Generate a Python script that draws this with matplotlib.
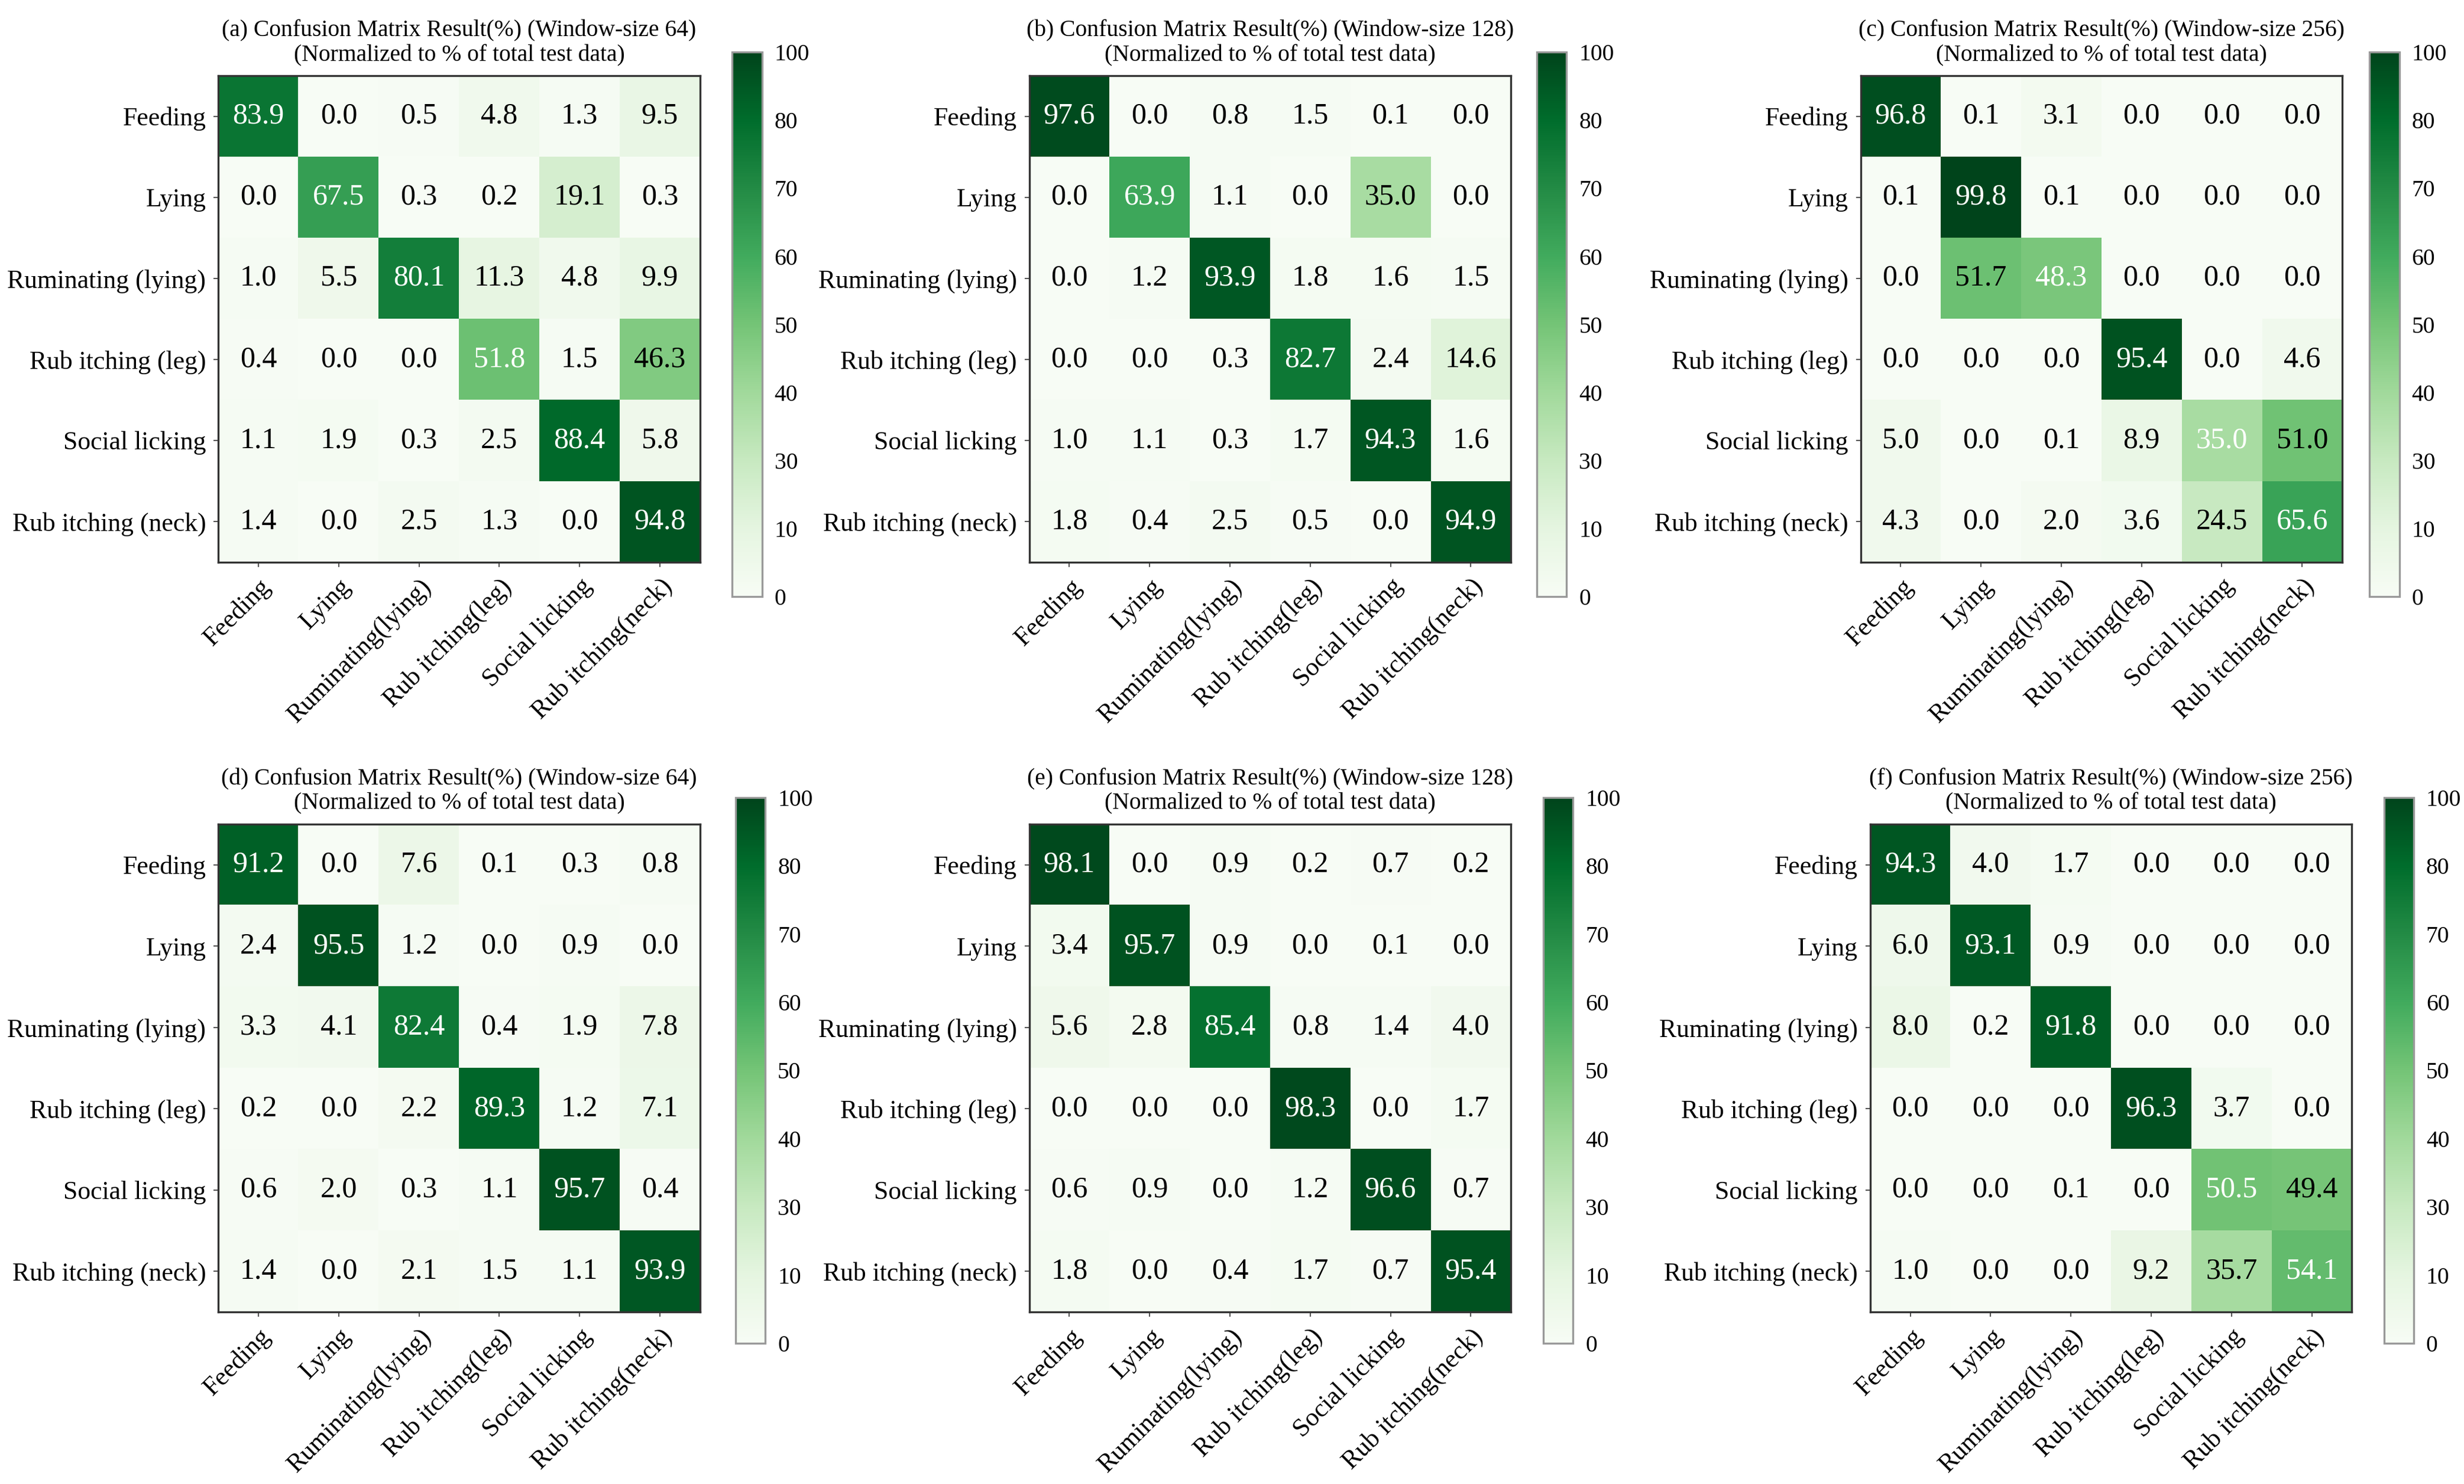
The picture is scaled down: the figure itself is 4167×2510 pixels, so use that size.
import numpy as np
import matplotlib
matplotlib.use("Agg")
import matplotlib.pyplot as plt

plt.rcParams["font.family"] = ["Liberation Serif", "DejaVu Serif"]

classes_y = ["Feeding", "Lying", "Ruminating (lying)", "Rub itching (leg)",
             "Social licking", "Rub itching (neck)"]
classes_x = ["Feeding", "Lying", "Ruminating(lying)", "Rub itching(leg)",
             "Social licking", "Rub itching(neck)"]
cbar_labels = ["0", "10", "30", "40", "50", "60", "70", "80", "100"]

titles = [
    "(a) Confusion Matrix Result(%) (Window-size 64)",
    "(b) Confusion Matrix Result(%) (Window-size 128)",
    "(c) Confusion Matrix Result(%) (Window-size 256)",
    "(d) Confusion Matrix Result(%) (Window-size 64)",
    "(e) Confusion Matrix Result(%) (Window-size 128)",
    "(f) Confusion Matrix Result(%) (Window-size 256)",
]
subtitle = "(Normalized to % of total test data)"

cm_a = [[83.9, 0.0, 0.5, 4.8, 1.3, 9.5],
        [0.0, 67.5, 0.3, 0.2, 19.1, 0.3],
        [1.0, 5.5, 80.1, 11.3, 4.8, 9.9],
        [0.4, 0.0, 0.0, 51.8, 1.5, 46.3],
        [1.1, 1.9, 0.3, 2.5, 88.4, 5.8],
        [1.4, 0.0, 2.5, 1.3, 0.0, 94.8]]
cm_b = [[97.6, 0.0, 0.8, 1.5, 0.1, 0.0],
        [0.0, 63.9, 1.1, 0.0, 35.0, 0.0],
        [0.0, 1.2, 93.9, 1.8, 1.6, 1.5],
        [0.0, 0.0, 0.3, 82.7, 2.4, 14.6],
        [1.0, 1.1, 0.3, 1.7, 94.3, 1.6],
        [1.8, 0.4, 2.5, 0.5, 0.0, 94.9]]
cm_c = [[96.8, 0.1, 3.1, 0.0, 0.0, 0.0],
        [0.1, 99.8, 0.1, 0.0, 0.0, 0.0],
        [0.0, 51.7, 48.3, 0.0, 0.0, 0.0],
        [0.0, 0.0, 0.0, 95.4, 0.0, 4.6],
        [5.0, 0.0, 0.1, 8.9, 35.0, 51.0],
        [4.3, 0.0, 2.0, 3.6, 24.5, 65.6]]
cm_d = [[91.2, 0.0, 7.6, 0.1, 0.3, 0.8],
        [2.4, 95.5, 1.2, 0.0, 0.9, 0.0],
        [3.3, 4.1, 82.4, 0.4, 1.9, 7.8],
        [0.2, 0.0, 2.2, 89.3, 1.2, 7.1],
        [0.6, 2.0, 0.3, 1.1, 95.7, 0.4],
        [1.4, 0.0, 2.1, 1.5, 1.1, 93.9]]
cm_e = [[98.1, 0.0, 0.9, 0.2, 0.7, 0.2],
        [3.4, 95.7, 0.9, 0.0, 0.1, 0.0],
        [5.6, 2.8, 85.4, 0.8, 1.4, 4.0],
        [0.0, 0.0, 0.0, 98.3, 0.0, 1.7],
        [0.6, 0.9, 0.0, 1.2, 96.6, 0.7],
        [1.8, 0.0, 0.4, 1.7, 0.7, 95.4]]
cm_f = [[94.3, 4.0, 1.7, 0.0, 0.0, 0.0],
        [6.0, 93.1, 0.9, 0.0, 0.0, 0.0],
        [8.0, 0.2, 91.8, 0.0, 0.0, 0.0],
        [0.0, 0.0, 0.0, 96.3, 3.7, 0.0],
        [0.0, 0.0, 0.1, 0.0, 50.5, 49.4],
        [1.0, 0.0, 0.0, 9.2, 35.7, 54.1]]

matrices = [cm_a, cm_b, cm_c, cm_d, cm_e, cm_f]

# panel boxes in figure fractions (matrix axes, colorbar axes)
ax_lefts = [0.0886, 0.4177, 0.7551, 0.0886, 0.4177, 0.759]
cb_lefts = [0.2972, 0.6237, 0.9617, 0.2985, 0.6263, 0.9675]

fig = plt.figure(figsize=(4167 / 300, 2510 / 300), dpi=300)

for i, cm in enumerate(matrices):
    cm = np.array(cm)
    row = i // 3
    if row == 0:
        ax_box = [ax_lefts[i], 0.6213, 0.1955, 0.3277]
        cb_box = [cb_lefts[i], 0.5979, 0.0121, 0.367]
    else:
        ax_box = [ax_lefts[i], 0.1160, 0.1955, 0.3287]
        cb_box = [cb_lefts[i], 0.0947, 0.0121, 0.368]
    ax = fig.add_axes(ax_box)
    im = ax.imshow(cm, cmap="Greens", vmin=0, vmax=100, aspect="auto")
    for r in range(cm.shape[0]):
        for c in range(cm.shape[1]):
            color = "white" if r == c else "black"
            ax.text(c, r, f"{cm[r, c]:.1f}", ha="center", va="center",
                    fontsize=12, color=color)
    ax.set_xticks(range(len(classes_x)))
    ax.set_xticklabels(classes_x, rotation=45, ha="right",
                       rotation_mode="anchor", fontsize=10.5)
    ax.set_yticks(range(len(classes_y)))
    ax.set_yticklabels(classes_y, fontsize=10.5)
    ax.tick_params(length=2, width=0.5, color="#555555", pad=3)
    for s in ax.spines.values():
        s.set_linewidth(0.8)
        s.set_color("#333333")
    ax.set_title(titles[i] + "\n" + subtitle, fontsize=9.5, pad=6,
                 linespacing=1.15)

    cax = fig.add_axes(cb_box)
    cb = fig.colorbar(im, cax=cax)
    cb.set_ticks(np.linspace(0, 100, len(cbar_labels)))
    cb.set_ticklabels(cbar_labels)
    cb.ax.tick_params(length=0, labelsize=9.5, pad=5)
    cb.outline.set_edgecolor("#999999")
    cb.outline.set_linewidth(0.8)

fig.savefig("out.png", dpi=300)
